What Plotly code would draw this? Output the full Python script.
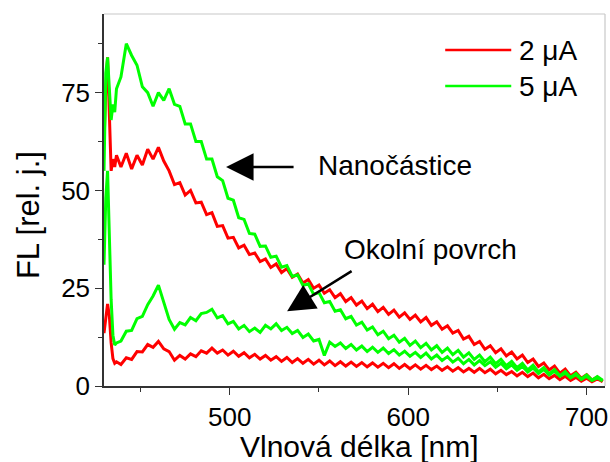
import plotly.graph_objects as go

wavelength = [429.5, 430.5, 431.5, 432.5, 433.5, 434.5, 435.5, 436.5,
              439, 442, 445, 448, 451, 454, 457, 460, 463, 466,
              469, 472, 475, 478, 481, 484, 487, 490, 493, 496,
              499, 502, 505, 508, 511, 514, 517, 520, 523, 526,
              529, 532, 535, 538, 541, 544, 547, 550, 553, 556,
              559, 562, 565, 568, 571, 574, 577, 580, 583, 586,
              589, 592, 595, 598, 601, 604, 607, 610, 613, 616,
              619, 622, 625, 628, 631, 634, 637, 640, 643, 646,
              649, 652, 655, 658, 661, 664, 667, 670, 673, 676,
              679, 682, 685, 688, 691, 694, 697, 700, 703, 706, 709]

# 2 uA - nanoparticle
red_nano = [62, 76, 84, 66, 55, 58, 56, 59,
            56, 59.5, 55.5, 59, 56.5, 60.5, 58, 61, 57.5, 55,
            51.5, 52, 48.8, 50, 46.8, 47, 43.8, 44.3, 40.8, 41,
            37.8, 38, 35.3, 36, 33.6, 34, 31.8, 32.5, 30.3, 31.2,
            29, 30, 27.8, 28.6, 26.3, 27.2, 25, 25.8, 23.7, 24.6,
            22.6, 23.6, 21.6, 22.6, 20.7, 21.7, 19.8, 20.9, 19, 20.1,
            18.3, 19.4, 17.6, 18.7, 17, 18.1, 16.4, 17.5, 15.5, 16.4,
            14.5, 15.4, 13.5, 14.2, 12, 12.7, 10.6, 11.4, 9.4, 10.3,
            8.5, 9.5, 7.7, 8.7, 6.9, 7.9, 6.0, 6.9, 5.0, 5.9,
            4.1, 5.1, 3.3, 4.3, 2.6, 3.5, 2.0, 2.9, 1.5, 2.3, 1.2]

# 5 uA - nanoparticle
green_nano = [55, 80, 84, 74, 68, 72, 70, 76,
              79, 87.5, 84.5, 82, 76.5, 75, 71.5, 75, 73, 76,
              72, 71.5, 67, 67, 62.5, 62.5, 58, 58, 53.5, 52.5,
              48, 47.5, 43, 42.6, 39, 38.8, 35.7, 35.8, 32.9, 33.2,
              30.4, 30.8, 28, 28.4, 25.7, 26.1, 23.4, 23.9, 21.3, 21.6,
              19.1, 19.5, 17.2, 17.8, 15.6, 16.3, 14.3, 15.1, 13.1, 14,
              12.1, 13, 11.2, 12.2, 10.4, 11.5, 9.8, 10.9, 9.2, 10.3,
              8.6, 9.7, 8, 9.1, 7.4, 8.5, 6.8, 7.9, 6.2, 7.4,
              5.7, 6.8, 5.2, 6.3, 4.7, 5.8, 4.1, 5.3, 3.6, 4.7,
              3.1, 4.2, 2.6, 3.7, 2.2, 3.2, 1.8, 2.8, 1.5, 2.4, 1.5]

# 5 uA - surrounding surface
green_surface = [31, 48, 55, 38, 22, 13, 10.5, 11,
                 11.5, 14, 14.2, 17.2, 17.8, 20.8, 23, 25.8, 21.5, 17,
                 14.5, 16.2, 15.6, 17.5, 16.7, 18.5, 18.8, 19.6, 17.4, 18,
                 15.9, 16.5, 14.6, 15.5, 13.9, 14.8, 13.7, 15.5, 14.6, 15.9,
                 14.2, 15, 13.4, 14.2, 12.4, 13.3, 11.5, 11.9, 7.8, 11.2,
                 10.1, 11, 9.6, 10.6, 9.2, 10.2, 8.8, 9.9, 8.6, 9.7,
                 8.3, 9.3, 7.9, 8.9, 7.6, 8.6, 7.3, 8.4, 6.9, 7.9,
                 6.5, 7.5, 6.1, 7.1, 5.7, 6.8, 5.4, 6.5, 5.2, 6.2,
                 4.8, 5.8, 4.4, 5.4, 4, 5, 3.6, 4.6, 3.2, 4.2,
                 2.8, 3.8, 2.5, 3.3, 2.1, 2.9, 1.7, 2.5, 1.4, 2.1, 1.3]

# 2 uA - surrounding surface
red_surface = [13.5, 17, 21, 18, 11, 7, 5.8, 6.2,
               5.5, 7.2, 6.8, 8.8, 8.7, 10.6, 9.9, 11.4, 9.5, 8.8,
               6.6, 7.8, 6.9, 8.2, 7.5, 9, 8.4, 9.7, 8.4, 9.2,
               7.9, 8.9, 7.6, 8.5, 7.2, 8.1, 6.9, 7.8, 6.6, 7.5,
               6.3, 7.3, 6, 7, 5.8, 6.8, 5.6, 6.6, 5.4, 6.4,
               5.2, 6.2, 5.1, 6.1, 5, 6, 4.9, 5.9, 4.8, 5.8,
               4.7, 5.7, 4.5, 5.5, 4.4, 5.4, 4.3, 5.3, 4.2, 5.1,
               4, 4.9, 3.8, 4.7, 3.6, 4.5, 3.5, 4.5, 3.4, 4.3,
               3.1, 4, 2.9, 3.7, 2.6, 3.5, 2.4, 3.3, 2.1, 3,
               1.9, 2.7, 1.6, 2.5, 1.4, 2.2, 1.2, 2, 1.1, 1.8, 1.1]

x_ticks = [500, 600, 700]
y_ticks = [0, 25, 50, 75]
legend_labels = ["2 μA", "5 μA"]
RED = "#ff0000"
GREEN = "#00ff00"
FONT = "Liberation Sans, Arial, sans-serif"

fig = go.Figure()
for ys, col in [(red_surface, RED), (red_nano, RED), (green_surface, GREEN), (green_nano, GREEN)]:
    fig.add_trace(go.Scatter(x=wavelength, y=ys, mode="lines",
                             line=dict(color=col, width=3),
                             showlegend=False, hoverinfo="skip"))

W, H = 610, 462
# plot area in window pixels: x 104..604.7, y 14..385.7
L, T = 104, 14
R = W - 604.7
B = H - 385.7
pw, ph = W - L - R, H - T - B

def px(x):
    return (x - L) / pw

def py(y):
    return (H - B - y) / ph

axis_common = dict(showline=True, linecolor="#333333", linewidth=1.5,
                   ticks="outside", ticklen=7, tickwidth=1.3, tickcolor="#333333",
                   showgrid=False, zeroline=False,
                   tickfont=dict(family=FONT, size=26, color="black"))

fig.update_layout(
    width=W, height=H, margin=dict(l=L, r=R, t=T, b=B, autoexpand=False),
    paper_bgcolor="white", plot_bgcolor="white",
    xaxis=dict(range=[429.5, 710.3], tickvals=x_ticks,
               minor=dict(tickvals=[450, 550, 650], ticklen=4, ticks="outside",
                          tickcolor="#333333", tickwidth=1.3),
               ticklabelstandoff=0,
               **axis_common),
    yaxis=dict(range=[0, 95.1], tickvals=y_ticks,
               minor=dict(tickvals=[12.5, 37.5, 62.5, 87.5], ticklen=4, ticks="outside",
                          tickcolor="#333333", tickwidth=1.3),
               ticklabelstandoff=0,
               **axis_common),
    showlegend=False,
)

shapes = [
    dict(type="line", xref="paper", yref="paper", x0=0, x1=1, y0=1, y1=1,
         line=dict(color="#c8c8c8", width=1.2)),
    dict(type="line", xref="paper", yref="paper", x0=1, x1=1, y0=0, y1=1,
         line=dict(color="#c8c8c8", width=1.2)),
    dict(type="line", xref="paper", yref="paper", x0=px(445), x1=px(511), y0=py(50), y1=py(50),
         line=dict(color=RED, width=2.5)),
    dict(type="line", xref="paper", yref="paper", x0=px(445), x1=px(511), y0=py(86), y1=py(86),
         line=dict(color=GREEN, width=2.5)),
]
fig.update_layout(shapes=shapes)

txt = dict(family=FONT, size=28, color="black")
ann = [
    dict(text=legend_labels[0], x=px(517), y=py(50), xanchor="left", yanchor="middle"),
    dict(text=legend_labels[1], x=px(517), y=py(86), xanchor="left", yanchor="middle"),
    dict(text="Nanočástice", x=px(316), y=py(165), xanchor="left", yanchor="middle"),
    dict(text="Okolní povrch", x=px(342), y=py(249), xanchor="left", yanchor="middle"),
    dict(text="Vlnová délka [nm]", x=px(359), y=py(446), xanchor="center", yanchor="middle",
         font=dict(family=FONT, size=30, color="black")),
    dict(text="FL [rel. j.]", x=px(28), y=py(215), xanchor="center", yanchor="middle",
         textangle=-90, font=dict(family=FONT, size=31, color="black")),
]
for a in ann:
    a.setdefault("font", txt)
    fig.add_annotation(xref="paper", yref="paper", showarrow=False, **a)

# arrows
fig.add_annotation(xref="paper", yref="paper", x=px(226), y=py(167), ax=69, ay=0,
                   text="", showarrow=True, arrowhead=2, arrowsize=2.2, arrowwidth=2.5,
                   arrowcolor="black")
fig.add_annotation(xref="paper", yref="paper", x=px(287), y=py(311), ax=66, ay=-41,
                   text="", showarrow=True, arrowhead=2, arrowsize=2.2, arrowwidth=2.5,
                   arrowcolor="black")

# remove the browser's default page margin so the 610x462 figure fills the window exactly
fig.write_html("out.html", config={"displayModeBar": False},
               post_script="document.body.style.margin='0';document.body.style.overflow='hidden';")
